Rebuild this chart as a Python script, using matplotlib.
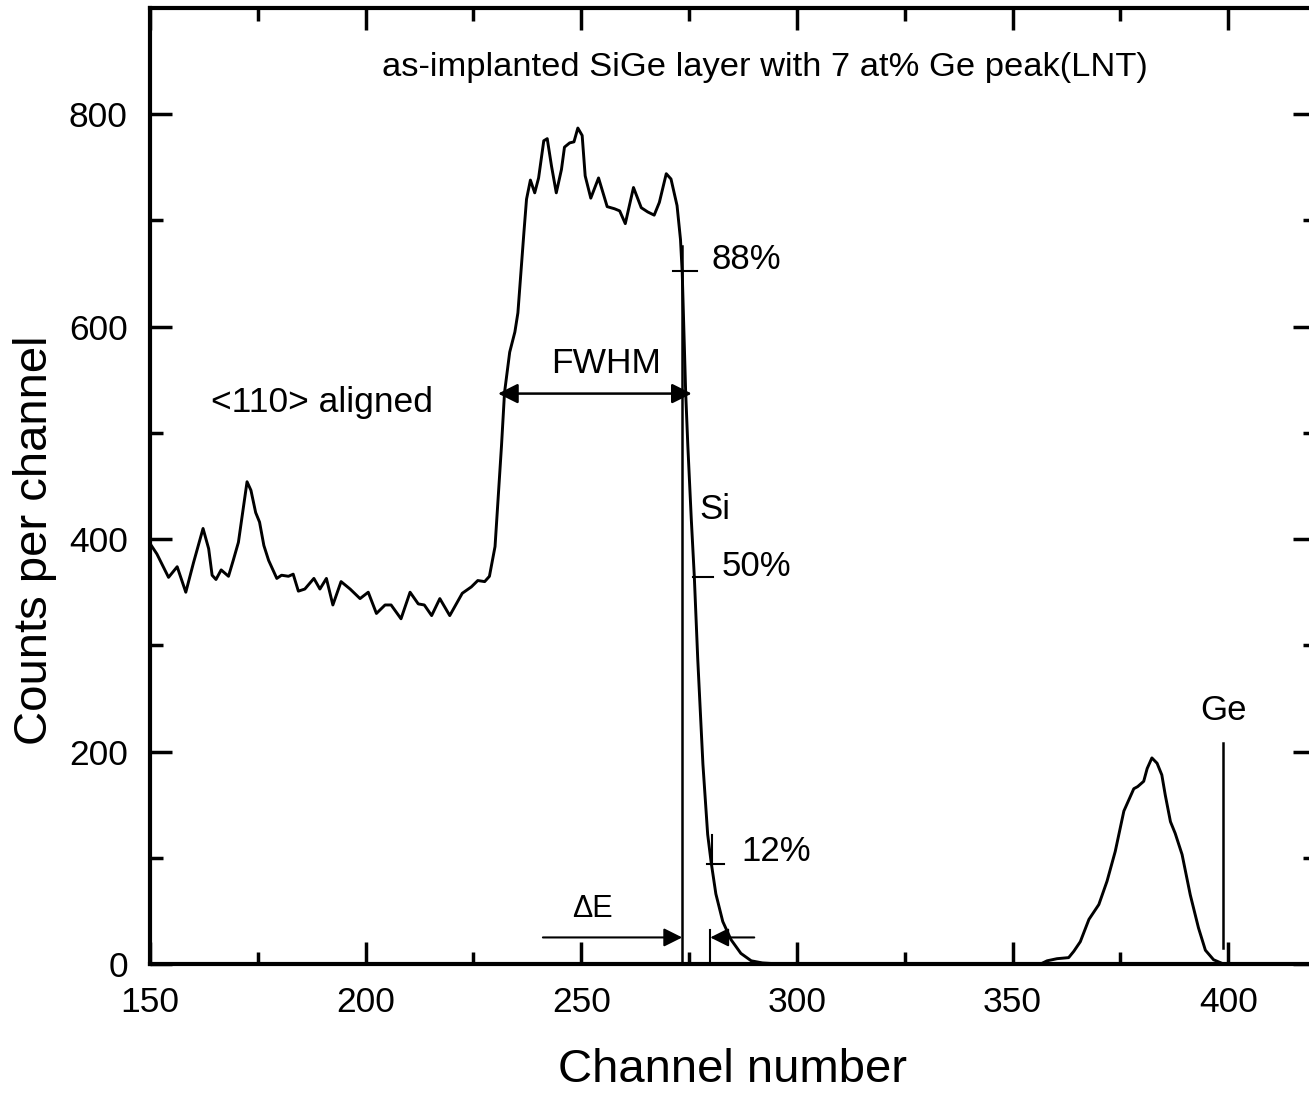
import numpy as np
import matplotlib
matplotlib.use("Agg")
import matplotlib.pyplot as plt

plt.rcParams['font.family'] = ['Liberation Sans', 'DejaVu Sans']

# spectrum (channel, counts)
channel = [150.3, 151.6, 154.3, 156.3, 158.3, 160.1, 162.3, 163.6, 164.4, 165.3,
           166.5, 168.2, 169.3, 170.5, 172.5, 173.4, 174.5, 175.4, 176.4, 177.5,
           179.4, 180.5, 182.1, 183.2, 184.4, 185.9, 188.0, 189.4, 190.9, 192.4,
           194.3, 196.4, 198.7, 200.6, 202.5, 204.5, 205.9, 208.2, 210.3, 212.2,
           213.6, 215.3, 217.2, 219.5, 222.4, 224.5, 226.0, 227.6, 228.7, 230.0,
           231.5, 232.2, 233.4, 234.6, 235.3, 236.1, 236.7, 237.3, 238.2, 239.2,
           240.1, 241.3, 242.1, 243.1, 244.2, 245.4, 246.1, 247.3, 248.3, 249.2,
           250.2, 250.9, 252.2, 254.0, 256.0, 257.7, 258.9, 260.2, 262.1, 263.9,
           265.4, 266.9, 268.1, 269.7, 270.8, 272.2, 273.0, 273.4, 273.8, 274.2,
           274.7, 275.5, 276.2, 277.0, 278.2, 279.3, 280.1, 281.2, 282.8, 284.7,
           287.0, 289.4, 292.0, 296.0, 300.0, 330.0, 356.5, 358.0, 360.3, 363.0,
           364.2, 365.7, 367.7, 370.0, 371.9, 373.8, 375.8, 378.1, 379.0, 380.4,
           381.2, 382.3, 383.5, 384.6, 385.4, 386.6, 387.7, 389.3, 391.2, 393.1,
           394.7, 396.6, 398.9, 405.0, 420.0]
counts = [394, 386, 364, 374, 350, 378, 410, 391, 366, 362,
          371, 365, 380, 397, 454, 446, 425, 416, 394, 380,
          363, 366, 365, 367, 351, 353, 363, 353, 363, 338,
          360, 353, 344, 350, 330, 338, 338, 325, 350, 339,
          338, 328, 344, 328, 349, 355, 361, 360, 365, 393,
          488, 538, 576, 595, 613, 657, 689, 720, 738, 726,
          740, 775, 777, 751, 726, 748, 769, 773, 774, 787,
          780, 742, 721, 740, 713, 711, 709, 697, 731, 712,
          708, 705, 717, 744, 739, 714, 682, 651, 595, 538,
          488, 419, 365, 287, 188, 122, 96, 66, 40, 23,
          10, 3, 1, 0, 0, 0, 0, 3, 5, 6,
          12, 21, 42, 56, 78, 106, 144, 165, 167, 172,
          184, 194, 189, 178, 159, 134, 123, 103, 65, 34,
          13, 4, 0, 0, 0]

xticks = [150, 200, 250, 300, 350, 400]
yticks = [0, 200, 400, 600, 800]

# marks on the Si edge: (x0, x1, level, label, label x, label y)
edge_marks = [(271.2, 276.8, 652, '88%', 280.1, 663),
              (275.8, 280.6, 364, '50%', 282.6, 374),
              (279.1, 283.1, 94, '12%', 287.0, 106)]
si_surface = 273.4
ge_surface = 398.9

fig = plt.figure(figsize=(13.09, 10.93), dpi=100)
ax = fig.add_axes([150 / 1309, 1 - 964 / 1093, 1164.5 / 1309, 956 / 1093])

ax.plot(channel, counts, color='black', lw=2.1)

ax.set_xlim(150, 420)
ax.set_ylim(0, 900)
ax.set_xticks(xticks)
ax.set_yticks(yticks)
ax.set_xticks(np.arange(175, 420, 50), minor=True)
ax.set_yticks(np.arange(100, 900, 200), minor=True)
ax.tick_params(which='both', direction='in', top=True, right=True,
               labelsize=25.5, pad=16, width=2.5)
ax.tick_params(which='major', length=16)
ax.tick_params(which='minor', length=9)
for s in ax.spines.values():
    s.set_linewidth(3)

ax.set_xlabel('Channel number', fontsize=34)
ax.xaxis.set_label_coords(0.5, -0.088)
ax.set_ylabel('Counts per channel', fontsize=34)
ax.yaxis.set_label_coords(-0.080, 0.4435)

ax.text(0.528, 0.938, 'as-implanted SiGe layer with 7 at% Ge peak(LNT)',
        transform=ax.transAxes, ha='center', va='center', fontsize=24.8)
ax.text(189.8, 529, '<110> aligned', ha='center', va='center', fontsize=25.5)

# surface lines
ax.plot([si_surface, si_surface], [0, 676], color='black', lw=1.8)
ax.plot([ge_surface, ge_surface], [15, 208], color='black', lw=1.8)
ax.text(ge_surface, 239, 'Ge', ha='center', va='center', fontsize=25)
ax.text(281.0, 428, 'Si', ha='center', va='center', fontsize=25)

# percentage marks
for x0, x1, lev, lab, tx, ty in edge_marks:
    ax.plot([x0, x1], [lev, lev], color='black', lw=1.5)
    ax.text(tx, ty, lab, ha='left', va='center', fontsize=25)
ax.plot([280.2, 280.2], [93, 121], color='black', lw=1.5)

# FWHM arrow
ax.annotate('', xy=(230.7, 537), xytext=(275.6, 537),
            arrowprops=dict(arrowstyle='<|-|>', color='black', lw=1.8,
                            mutation_scale=30, shrinkA=0, shrinkB=0))
ax.text(255.7, 565, 'FWHM', ha='center', va='center', fontsize=25.5)

# delta E arrows
ax.annotate('', xy=(si_surface, 25), xytext=(241.1, 25),
            arrowprops=dict(arrowstyle='-|>', color='black', lw=1.5,
                            mutation_scale=28, shrinkA=0, shrinkB=0))
ax.annotate('', xy=(279.9, 25), xytext=(290.1, 25),
            arrowprops=dict(arrowstyle='-|>', color='black', lw=1.5,
                            mutation_scale=28, shrinkA=0, shrinkB=0))
ax.plot([279.9, 279.9], [2, 32], color='black', lw=1.5)
ax.text(252.5, 52, 'ΔE', ha='center', va='center', fontsize=22)

fig.savefig('out.png', dpi=100)
